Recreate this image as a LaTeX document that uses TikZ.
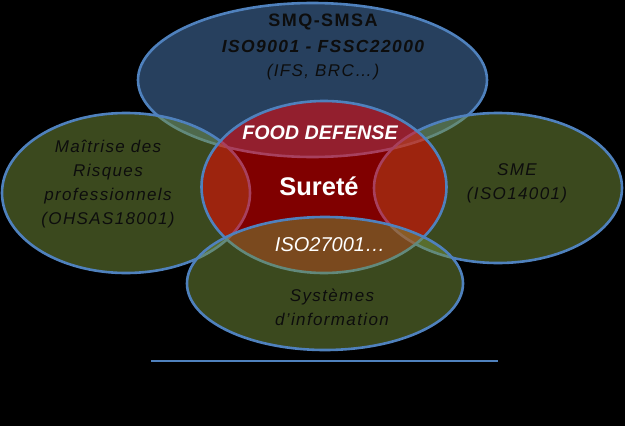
\documentclass[tikz,border=0pt]{standalone}
\usepackage{fontspec}
\setmainfont{Liberation Sans}
\newfontfamily\spacedfont[LetterSpace=8]{Liberation Sans}
\usetikzlibrary{shapes.geometric}

\definecolor{rimblue}{HTML}{4F81BD}
\definecolor{topblue}{HTML}{4F81BD}
\definecolor{olive}{HTML}{76923C}
\definecolor{inkdark}{HTML}{0D0D0D}

\tikzset{
  zone/.style={ellipse, draw=rimblue, line width=2.6pt, fill opacity=0.5,
    draw opacity=1, inner sep=0pt},
  darktxt/.style={text=inkdark, align=center,
    font=\spacedfont\itshape\fontsize{17}{24}\selectfont},
  whitetxt/.style={text=white, align=center}
}

\begin{document}
\begin{tikzpicture}[x=1pt, y=-1pt]
  % black page, sized like the slide
  \fill[black] (0,0) rectangle (625,426);
  \useasboundingbox (0,0) rectangle (625,426);

  % the five zones, back to front
  \node[zone, fill=topblue, minimum width=349pt, minimum height=154pt] (smq) at (312.5,80) {};
  \node[zone, fill=olive, minimum width=248pt, minimum height=160pt] (risk) at (126,193) {};
  \node[zone, fill=olive, minimum width=248pt, minimum height=150pt] (sme) at (498,188) {};
  \node[zone, fill=red, minimum width=245pt, minimum height=172pt] (surete) at (324,187) {};
  \node[zone, fill=olive, minimum width=276pt, minimum height=133pt] (si) at (325,283.5) {};

  % labels
  \node[text=inkdark, font=\spacedfont\bfseries\fontsize{18}{25}\selectfont] (smqA) at (323,22) {SMQ-SMSA};
  \node[text=inkdark, font=\spacedfont\bfseries\itshape\fontsize{17.5}{25}\selectfont] (smqB) at (323,46) {ISO9001 - FSSC22000};
  \node[darktxt] (smqC) at (323,72) {(IFS, BRC…)};
  \node[darktxt] (riskT) at (108,184) {Maîtrise des\\Risques\\professionnels\\(OHSAS18001)};
  \node[darktxt] (smeT) at (517,183) {SME\\(ISO14001)};
  \node[darktxt] (siT) at (332,307) {Systèmes\\d’information};

  \node[whitetxt, font=\bfseries\itshape\fontsize{19.7}{24}\selectfont] (food) at (320,133) {FOOD DEFENSE};
  \node[whitetxt, font=\bfseries\fontsize{25.5}{30}\selectfont] (sur) at (319,186) {Sureté};
  \node[whitetxt, font=\itshape\fontsize{20}{24}\selectfont] (iso) at (330,245) {ISO27001…};

  % rule under the diagram
  \coordinate (ruleL) at (151,361);
  \coordinate (ruleR) at (498,361);
  \draw[rimblue, line width=1.3pt] (ruleL) -- (ruleR);
\end{tikzpicture}
\end{document}
